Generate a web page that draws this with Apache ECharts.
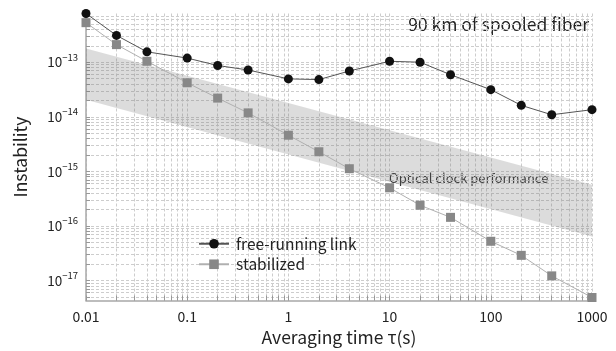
<!DOCTYPE html>
<html>
<head>
<meta charset="utf-8">
<script src="https://cdn.jsdelivr.net/npm/echarts@6/dist/echarts.min.js"></script>
<style>html,body{margin:0;padding:0;background:#fff;}#c{width:616px;height:351px;}</style>
</head>
<body>
<div id="c"></div>
<script>
// ---- data ----
const tau = [0.01, 0.02, 0.04, 0.1, 0.2, 0.4, 1, 2, 4, 10, 20, 40, 100, 200, 400, 1000];
const freeRunning = [7.8e-13, 3.1e-13, 1.55e-13, 1.19e-13, 8.7e-14, 7.2e-14, 4.95e-14, 4.8e-14, 6.9e-14, 1.04e-13, 1.0e-13, 5.9e-14, 3.14e-14, 1.62e-14, 1.09e-14, 1.35e-14];
const stabilized = [5.3e-13, 2.1e-13, 1.04e-13, 4.2e-14, 2.2e-14, 1.18e-14, 4.6e-15, 2.29e-15, 1.12e-15, 5.0e-16, 2.4e-16, 1.44e-16, 5.25e-17, 2.9e-17, 1.22e-17, 4.9e-18];
const bandTau = [0.01, 1000];
const bandUpper = [1.78e-13, 5.7e-16];
const bandLower = [2.05e-14, 6.4e-17];
const xTickLabels = ['0.01', '0.1', '1', '10', '100', '1000'];
const yDecades = [-17, -16, -15, -14, -13];
const xRange = [0.01, 1000];
const yRange = [4.3e-18, 7.8e-13];
const seriesNames = ['free-running link', 'stabilized'];

// ---- helpers ----
const L = Math.log10;
function minorLogs(lo, hi) {
  const out = [];
  for (let n = Math.floor(lo) - 1; n <= Math.ceil(hi); n++) {
    for (let k = 1; k <= 9; k++) {
      const v = L(k) + n;
      if (v >= lo - 1e-9 && v <= hi + 1e-9) out.push(v);
    }
  }
  return out;
}
const xMin = L(xRange[0]), xMax = L(xRange[1]);
const yMin = L(yRange[0]), yMax = L(yRange[1]);
const xTicks = minorLogs(xMin, xMax);
const yTicks = minorLogs(yMin, yMax);
const xMajor = xTickLabels.map(s => L(parseFloat(s)));

const FONT = '"Noto Sans CJK JP", "Noto Sans", sans-serif';
const gridLine = { show: true, lineStyle: { color: '#cdcdcd', type: [3, 2], width: 1 } };

const chart = echarts.init(document.getElementById('c'), null, { renderer: 'canvas' });
chart.setOption({
  backgroundColor: '#fff',
  animation: false,
  textStyle: { fontFamily: FONT },
  grid: { left: 86, right: 24, top: 13.5, bottom: 45.3, containLabel: false },
  xAxis: {
    type: 'value', min: xMin, max: xMax, interval: 1,
    name: 'Averaging time τ(s)', nameLocation: 'middle', nameGap: 26,
    nameTextStyle: { fontSize: 17.5, color: '#222', fontFamily: FONT },
    axisLine: { show: true, onZero: false, lineStyle: { color: '#a8a8a8', width: 1.5 } },
    axisTick: { show: true, inside: true, length: 5, customValues: xTicks, lineStyle: { color: '#999' } },
    axisLabel: {
      customValues: xMajor, margin: 9, fontSize: 14, color: '#222', fontFamily: FONT,
      formatter: v => xTickLabels[Math.round(v - xMin)]
    },
    splitLine: gridLine
  },
  yAxis: {
    type: 'value', min: yMin, max: yMax,
    name: 'Instability', nameLocation: 'middle', nameGap: 57,
    nameTextStyle: { fontSize: 17.5, color: '#222', fontFamily: FONT },
    axisLine: { show: true, onZero: false, lineStyle: { color: '#a8a8a8', width: 1.5 } },
    axisTick: { show: true, inside: true, length: 4, customValues: yTicks, lineStyle: { color: '#999' } },
    axisLabel: {
      customValues: yDecades, margin: 8, color: '#222', fontFamily: FONT,
      formatter: v => '{b|10}{s|\u2212' + Math.round(-v) + '}',
      rich: {
        b: { fontSize: 13.5, lineHeight: 20, verticalAlign: 'middle', color: '#222', fontFamily: FONT },
        s: { fontSize: 9.5, lineHeight: 10, verticalAlign: 'top', color: '#222', fontFamily: FONT }
      }
    },
    splitLine: gridLine
  },
  legend: {
    data: seriesNames, orient: 'vertical', left: 193, top: 231,
    itemWidth: 30, itemHeight: 12, itemGap: 5,
    textStyle: { fontSize: 15.5, color: '#222', fontFamily: FONT, padding: [0, 0, 0, 2] }
  },
  graphic: [
    { type: 'text', right: 27, top: 16, style: { text: '90 km of spooled fiber', fontSize: 17.5, fill: '#222', fontFamily: FONT } },
    { type: 'text', left: 389, top: 172, style: { text: 'Optical clock performance', fontSize: 13, fill: '#333', fontFamily: FONT } }
  ],
  series: [
    {
      type: 'custom', name: 'band', z: 1, silent: true, clip: true,
      data: [[0, 0]],
      renderItem: (params, api) => {
        const pts = [];
        for (let i = 0; i < bandTau.length; i++) pts.push(api.coord([L(bandTau[i]), L(bandUpper[i])]));
        for (let i = bandTau.length - 1; i >= 0; i--) pts.push(api.coord([L(bandTau[i]), L(bandLower[i])]));
        return { type: 'polygon', shape: { points: pts }, style: { fill: 'rgba(110,110,110,0.24)' } };
      }
    },
    {
      type: 'line', name: seriesNames[1], z: 3, clip: false,
      data: tau.map((t, i) => [L(t), L(stabilized[i])]),
      symbol: 'rect', symbolSize: 9,
      lineStyle: { color: '#b0b0b0', width: 1 },
      itemStyle: { color: '#888' }
    },
    {
      type: 'line', name: seriesNames[0], z: 4, clip: false,
      data: tau.map((t, i) => [L(t), L(freeRunning[i])]),
      symbol: 'circle', symbolSize: 9,
      lineStyle: { color: '#555', width: 1 },
      itemStyle: { color: '#111' }
    }
  ]
});
</script>
</body>
</html>
